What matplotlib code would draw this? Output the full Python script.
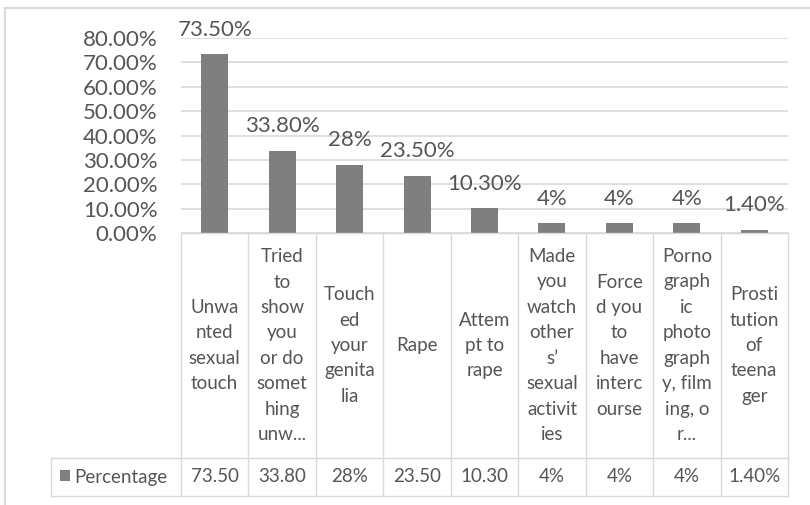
import matplotlib.pyplot as plt
from matplotlib.lines import Line2D
from matplotlib.patches import Rectangle
from matplotlib.transforms import blended_transform_factory

plt.rcParams["font.family"] = ["Lato", "DejaVu Sans"]

# chart data
categories = [
    "Unwa\nnted\nsexual\ntouch",
    "Tried\nto\nshow\nyou\nor do\nsomet\nhing\nunw...",
    "Touch\ned\nyour\ngenita\nlia",
    "Rape",
    "Attem\npt to\nrape",
    "Made\nyou\nwatch\nother\ns’\nsexual\nactivit\nies",
    "Force\nd you\nto\nhave\ninterc\nourse",
    "Porno\ngraph\nic\nphoto\ngraph\ny, film\ning, o\nr...",
    "Prosti\ntution\nof\nteena\nger",
]
values = [73.5, 33.8, 28, 23.5, 10.3, 4, 4, 4, 1.4]
table_text = ["73.50", "33.80", "28%", "23.50", "10.30", "4%", "4%", "4%", "1.40%"]
y_ticks = [0, 10, 20, 30, 40, 50, 60, 70, 80]
series_name = "Percentage"

# colours
BAR = "#7f7f7f"
TEXT = "#555555"
GRID = "#d9d9d9"

W, H = 810, 505
fig = plt.figure(figsize=(W / 100, H / 100), dpi=100)


def fx(px):
    return px / W


def fy(py):
    # pixel rows counted from the top
    return 1 - py / H


# plot area in pixels
left, right, top, bottom = 181, 788, 38, 233
ax = fig.add_axes([fx(left), fy(bottom), fx(right - left), fy(top) - fy(bottom)])

x = list(range(len(values)))
ax.bar(x, values, width=0.4, color=BAR, zorder=3)
ax.set_xlim(-0.5, len(values) - 0.5)
ax.set_ylim(0, 80)
ax.set_yticks(y_ticks)
ax.set_yticklabels([f"{t:.2f}%" for t in y_ticks], fontsize=16, color=TEXT)
ax.tick_params(axis="y", length=0, pad=17)
ax.set_xticks([])
ax.grid(axis="y", color=GRID, linewidth=1.2, zorder=0)
for s in ax.spines.values():
    s.set_visible(False)

# value labels above bars
for xi, v in zip(x, values):
    lab = f"{v:.0f}%" if float(v).is_integer() else f"{v:.2f}%"
    ax.annotate(lab, (xi, v), xytext=(0, 17.5), textcoords="offset points",
                ha="center", va="center", fontsize=16, color=TEXT)

# data table below the plot area
header_bottom, row_bottom, legend_left = 458, 496, 51
tr = blended_transform_factory(ax.transData, fig.transFigure)
lw = 1.0

def hline(x0, x1, py):
    fig.add_artist(Line2D([fx(x0), fx(x1)], [fy(py), fy(py)], color=GRID, lw=lw))

def vline(px, y0, y1):
    fig.add_artist(Line2D([fx(px), fx(px)], [fy(y0), fy(y1)], color=GRID, lw=lw))

hline(left, right, bottom)
hline(legend_left, right, header_bottom)
hline(legend_left, right, row_bottom)
vline(legend_left, header_bottom, row_bottom)
col_w = (right - left) / len(values)
for k in range(len(values) + 1):
    vline(left + k * col_w, bottom, row_bottom)

for xi, cat, tt in zip(x, categories, table_text):
    fig.text(xi, fy((bottom + header_bottom) / 2), cat, transform=tr,
             ha="center", va="center", fontsize=13.5, color=TEXT,
             linespacing=1.6, multialignment="center")
    fig.text(xi, fy((header_bottom + row_bottom) / 2), tt, transform=tr,
             ha="center", va="center", fontsize=13.5, color=TEXT)

# legend key inside the first table cell
fig.add_artist(Rectangle((fx(60), fy(481)), fx(10), fy(470) - fy(481),
                         facecolor=BAR, edgecolor="none"))
fig.text(fx(74), fy((header_bottom + row_bottom) / 2), series_name,
         ha="left", va="center", fontsize=13.5, color=TEXT)

# chart area frame
fig.add_artist(Line2D([fx(5), 1], [fy(8), fy(8)], color=GRID, lw=1.5))
fig.add_artist(Line2D([fx(5), fx(5)], [fy(8), 0], color=GRID, lw=1.5))

fig.savefig("out.png", dpi=100)
